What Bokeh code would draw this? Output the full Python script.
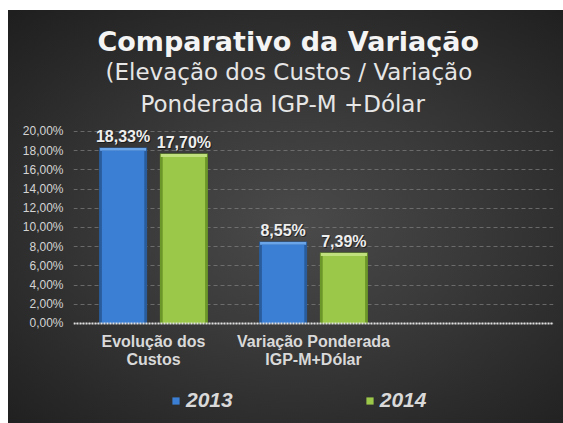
import numpy as np
from bokeh.plotting import figure
from bokeh.layouts import column, row
from bokeh.models import (Range1d, FixedTicker, Title, Legend, LegendItem,
                          ColumnDataSource, Spacer, Span)
from bokeh.transform import dodge
from bokeh.core.properties import value
from bokeh.embed import file_html
from bokeh.resources import INLINE

# ---- data ----
categories = ["Evolução dos\nCustos", "Variação Ponderada\nIGP-M+Dólar"]
series_names = ["2013", "2014"]
values_2013 = [18.33, 8.55]
values_2014 = [17.70, 7.39]
y_ticks = [0, 2, 4, 6, 8, 10, 12, 14, 16, 18, 20]
y_tick_labels = ["0,00%", "2,00%", "4,00%", "6,00%", "8,00%", "10,00%",
                 "12,00%", "14,00%", "16,00%", "18,00%", "20,00%"]
title_text = "Comparativo da Variação"
subtitle_lines = ["(Elevação dos Custos / Variação", "Ponderada IGP-M +Dólar"]

# ---- styles ----
FONT = "Liberation Sans"
TFONT = "DejaVu Sans"
blue = dict(edge="#2a5c9c", top="#6aa5ea", face="#3b7fd4")
green = dict(edge="#6b9628", top="#bfe07c", face="#9cc84a")
bar_w = 0.30
offs = 0.19

x = np.arange(len(categories))
src = ColumnDataSource(dict(
    x=x,
    zero=[0.0] * len(categories),
    cat=categories,
    v13=values_2013,
    v14=values_2014,
    v13_top=[v - 0.35 for v in values_2013],
    v14_top=[v - 0.35 for v in values_2014],
    v13_hl=[v - 0.05 for v in values_2013],
    v14_hl=[v - 0.05 for v in values_2014],
    lab13=[f"{v:.2f}%".replace(".", ",") for v in values_2013],
    lab14=[f"{v:.2f}%".replace(".", ",") for v in values_2014],
))

p = figure(width=555, height=413, x_range=Range1d(-0.5, 2.5),
           y_range=Range1d(-10.42, 21.04), output_backend="svg", toolbar_location=None,
           min_border_left=65, min_border_right=10, min_border_bottom=0,
           min_border_top=111, title=title_text)
p.border_fill_alpha = 0
p.background_fill_alpha = 0
p.outline_line_color = None
p.styles = {
    "background": "radial-gradient(ellipse 75% 70% at 52% 52%, #4a4a4a 0%, #3a3a3a 40%, #282828 80%, #1f1f1f 100%)",
}

p.xgrid.visible = False
p.ygrid.ticker = FixedTicker(ticks=y_ticks)
p.ygrid.grid_line_color = "#808080"
p.ygrid.grid_line_alpha = 0.7
p.ygrid.grid_line_dash = "4 3"

legend_rs = []
for key, col, off in (("13", blue, -offs), ("14", green, offs)):
    xd = dodge("x", off, range=p.x_range)
    p.vbar(x=xd, top="v" + key, bottom=0, width=bar_w, source=src,
           fill_color=col["edge"], line_color=None)
    p.vbar(x=xd, top="v" + key + "_hl", bottom="v" + key + "_top", width=bar_w - 0.012,
           source=src, fill_color=col["top"], line_color=None)
    r = p.vbar(x=xd, top="v" + key + "_top", bottom=0.03, width=bar_w - 0.035,
               source=src, fill_color=col["face"], line_color=None)
    legend_rs.append(r)
    p.text(x=xd, y="v" + key, text="lab" + key, source=src, x_offset=1, y_offset=-10,
           text_align="center", text_baseline="alphabetic",
           text_font=value(FONT), text_font_size="16px", text_font_style="bold",
           text_color="#000000", text_alpha=0.5)
    p.text(x=xd, y="v" + key, text="lab" + key, source=src, y_offset=-11,
           text_align="center", text_baseline="alphabetic",
           text_font=value(FONT), text_font_size="16px", text_font_style="bold",
           text_color="#eeeeee")

# category axis line and labels
p.add_layout(Span(location=0, dimension="width", line_color="#e0e0e0",
                  line_width=2, line_dash="2 1"))
p.text(x="x", y="zero", text="cat", source=src, y_offset=10,
       text_align="center", text_baseline="top", text_line_height=1.06,
       text_font=value(FONT), text_font_size="16px", text_font_style="bold",
       text_color="#d9d9d9")
p.xaxis.visible = False

# titles: p.title is outermost; added titles stack outward from the frame
p.title.text_font = TFONT
p.title.text_font_size = "27px"
p.title.text_font_style = "bold"
p.title.text_color = "#f4f4f4"
p.title.align = "left"
p.title.offset = 24
p.title.standoff = 0
t2 = Title(text=subtitle_lines[1], text_font=TFONT, text_font_size="23px",
           text_font_style="normal", text_color="#e6e6e6", align="left",
           offset=67, standoff=9)
p.add_layout(t2, "above")
t1 = Title(text=subtitle_lines[0], text_font=TFONT, text_font_size="23px",
           text_font_style="normal", text_color="#e6e6e6", align="left",
           offset=32, standoff=0)
p.add_layout(t1, "above")

p.yaxis.ticker = FixedTicker(ticks=y_ticks)
p.yaxis.major_label_overrides = {t: l for t, l in zip(y_ticks, y_tick_labels)}
p.yaxis.major_label_text_font = FONT
p.yaxis.major_label_text_font_size = "12px"
p.yaxis.major_label_text_color = "#d4d4d4"
p.yaxis.major_label_standoff = 10
p.yaxis.major_tick_out = 0
p.yaxis.major_tick_in = 0
p.yaxis.axis_line_color = None
p.yaxis.major_tick_line_color = None
p.yaxis.minor_tick_line_color = None

legend = Legend(items=[LegendItem(label=series_names[i], renderers=[legend_rs[i]])
                       for i in range(2)],
                orientation="horizontal", location=(94, 7), spacing=132,
                label_standoff=6, glyph_width=9, glyph_height=9,
                label_text_font=FONT, label_text_font_size="21px",
                label_text_font_style="bold italic", label_text_color="#d9d9d9",
                background_fill_alpha=0, border_line_alpha=0, padding=4, margin=0)
p.add_layout(legend, "center")

layout = column(Spacer(height=10), row(Spacer(width=8), p))
open("out.html", "w").write(file_html(layout, INLINE))
